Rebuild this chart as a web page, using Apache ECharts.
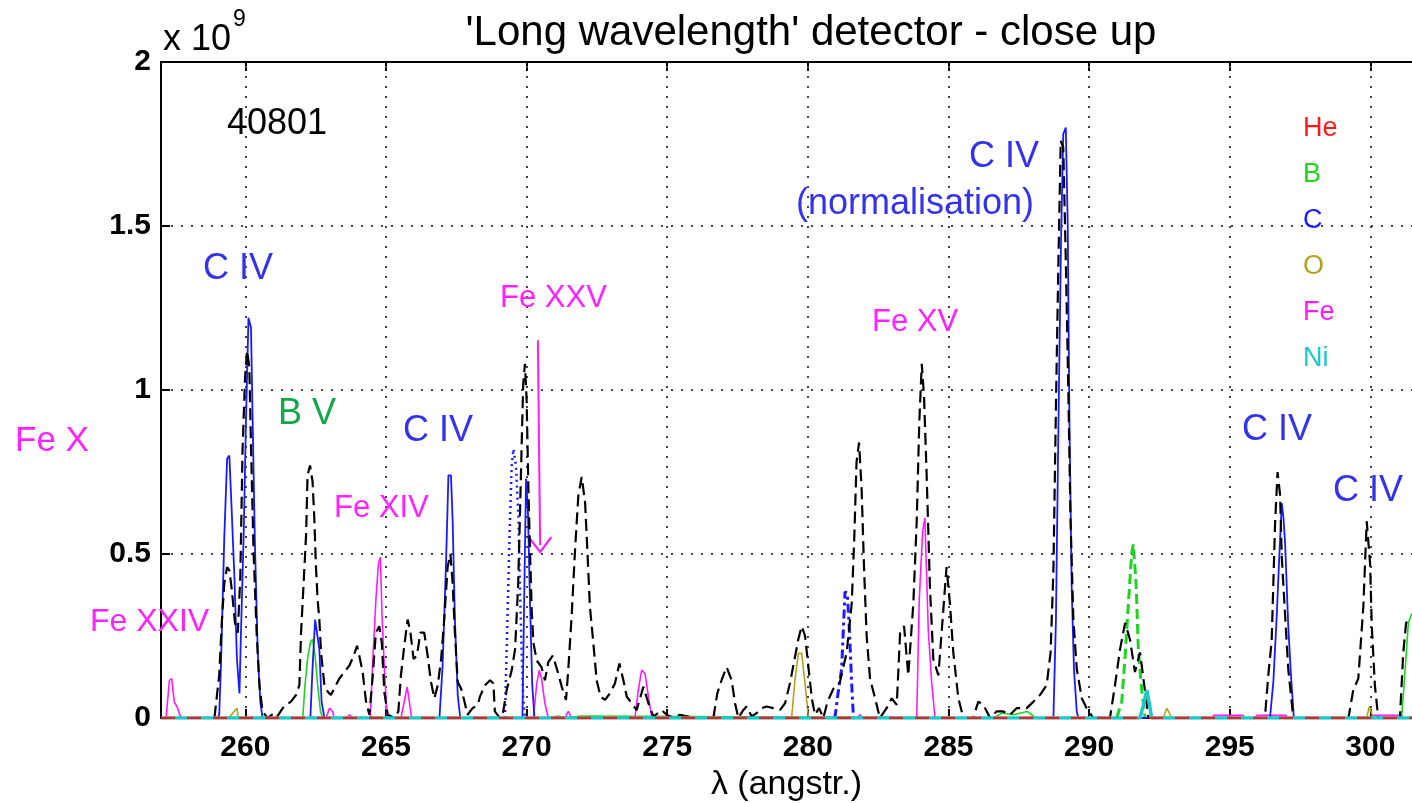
<!DOCTYPE html>
<html>
<head>
<meta charset="utf-8">
<script src="https://cdn.jsdelivr.net/npm/echarts@6/dist/echarts.min.js"></script>
<style>
html,body{margin:0;padding:0;background:#fff;}
#chart{width:1412px;height:803px;}
</style>
</head>
<body>
<div id="chart"></div>
<script>
// wavelength ticks (angstrom)
const xTicks = [260, 265, 270, 275, 280, 285, 290, 295, 300];
// values in units of 1e9
const totalSpectrum = [[257.0,0],[258.0,0],[258.9,0],[258.99,0.07],[259.07,0.13],[259.16,0.29],[259.25,0.41],[259.35,0.46],[259.43,0.45],[259.52,0.39],[259.63,0.29],[259.73,0.26],[259.82,0.43],[259.90,0.82],[259.99,1.04],[260.06,1.12],[260.14,1.07],[260.20,0.83],[260.29,0.51],[260.40,0.26],[260.50,0.10],[260.61,0.02],[260.79,0],[260.95,0.01],[261.1,0],[261.33,0.03],[261.45,0.04],[261.62,0.05],[261.8,0.07],[261.92,0.10],[261.98,0.26],[262.07,0.41],[262.16,0.56],[262.21,0.74],[262.30,0.77],[262.39,0.72],[262.45,0.61],[262.51,0.46],[262.57,0.36],[262.63,0.30],[262.69,0.20],[262.81,0.10],[262.93,0.08],[263.04,0.07],[263.16,0.09],[263.34,0.12],[263.52,0.14],[263.70,0.16],[263.85,0.19],[263.97,0.22],[264.05,0.19],[264.17,0.14],[264.29,0.05],[264.41,0.01],[264.53,0.13],[264.64,0.26],[264.76,0.28],[264.85,0.23],[264.94,0.08],[265.06,0.01],[265.30,0],[265.44,0.02],[265.53,0.13],[265.65,0.22],[265.77,0.30],[265.87,0.26],[265.98,0.18],[266.10,0.19],[266.22,0.26],[266.36,0.26],[266.48,0.19],[266.60,0.11],[266.72,0.06],[266.84,0.10],[266.96,0.18],[267.07,0.30],[267.19,0.46],[267.29,0.50],[267.37,0.41],[267.45,0.26],[267.55,0.11],[267.67,0.09],[267.79,0.05],[267.90,0.01],[268.08,0.03],[268.26,0.04],[268.34,0.065],[268.52,0.10],[268.70,0.115],[268.82,0.105],[268.87,0.02],[269.05,0],[269.17,0.02],[269.29,0.085],[269.47,0.146],[269.59,0.21],[269.70,0.41],[269.76,0.61],[269.82,0.82],[269.88,1.02],[269.94,1.08],[270.00,0.97],[270.06,0.71],[270.12,0.51],[270.18,0.33],[270.24,0.23],[270.36,0.175],[270.53,0.155],[270.65,0.115],[270.77,0.17],[270.93,0.19],[271.09,0.146],[271.25,0.095],[271.40,0.055],[271.48,0.146],[271.60,0.31],[271.72,0.51],[271.84,0.68],[271.96,0.735],[272.08,0.655],[272.16,0.51],[272.25,0.34],[272.37,0.23],[272.49,0.115],[272.63,0.065],[272.79,0.055],[272.96,0.075],[273.14,0.105],[273.30,0.166],[273.44,0.115],[273.56,0.065],[273.73,0.045],[273.91,0.024],[274.15,0.095],[274.33,0.045],[274.51,0.004],[274.80,0.024],[274.98,0.01],[275.22,0],[275.45,0.01],[275.99,0],[276.64,0],[276.78,0.075],[276.93,0.115],[277.11,0.155],[277.29,0.115],[277.41,0.045],[277.53,0],[277.70,0.024],[277.82,0.035],[278.00,0.005],[278.18,0.015],[278.36,0.03],[278.53,0.035],[278.77,0.03],[279.01,0.025],[279.19,0.045],[279.36,0.105],[279.54,0.185],[279.66,0.24],[279.78,0.28],[279.90,0.25],[280.02,0.155],[280.14,0.06],[280.25,0.01],[280.4,0.03],[280.55,0],[280.7,0.05],[280.91,0.09],[281.14,0.11],[281.38,0.20],[281.56,0.35],[281.65,0.55],[281.73,0.78],[281.82,0.84],[281.91,0.70],[282.00,0.45],[282.09,0.25],[282.21,0.12],[282.39,0.06],[282.56,0],[282.80,0.03],[282.98,0.06],[283.16,0.04],[283.28,0.26],[283.42,0.28],[283.57,0.13],[283.75,0.35],[283.87,0.60],[283.96,0.90],[284.05,1.08],[284.13,0.98],[284.22,0.75],[284.34,0.40],[284.46,0.18],[284.64,0.13],[284.79,0.30],[284.93,0.46],[285.05,0.35],[285.17,0.20],[285.35,0.06],[285.53,0],[285.88,0],[286.06,0.05],[286.24,0.04],[286.48,0],[286.71,0.02],[286.95,0.02],[287.19,0.01],[287.42,0.03],[287.78,0.03],[288.02,0.05],[288.25,0.07],[288.49,0.10],[288.63,0.20],[288.73,0.45],[288.82,0.95],[288.91,1.40],[288.99,1.76],[289.08,1.74],[289.17,1.40],[289.26,1.00],[289.34,0.60],[289.44,0.30],[289.56,0.15],[289.74,0.06],[289.91,0.03],[290.15,0],[290.74,0],[290.92,0.10],[291.10,0.21],[291.28,0.29],[291.45,0.24],[291.63,0.14],[291.81,0.20],[291.93,0.12],[292.11,0],[296.25,0],[296.37,0.13],[296.49,0.235],[296.55,0.41],[296.61,0.59],[296.70,0.75],[296.79,0.68],[296.85,0.49],[296.97,0.31],[297.08,0.15],[297.20,0.05],[297.26,0],[299.22,0],[299.39,0.085],[299.57,0.12],[299.75,0.34],[299.87,0.60],[299.99,0.47],[300.05,0.28],[300.16,0.10],[300.28,0],[301.05,0],[301.17,0.20],[301.27,0.29],[301.41,0.30],[301.5,0.30]];
const heLine = [[257,0],[301.5,0]];
const bLine = [[257,0],[262.04,0],[262.12,0.10],[262.21,0.18],[262.31,0.23],[262.39,0.24],[262.48,0.19],[262.57,0.10],[262.67,0.02],[262.75,0],[270.8,0],[270.82,0.006],[271.1,0.006],[271.12,0],[271.45,0],[271.47,0.006],[271.9,0.006],[271.92,0],[286.6,0],[286.9,0.015],[287.3,0.01],[287.8,0.02],[288.1,0],[301.11,0],[301.23,0.14],[301.35,0.29],[301.48,0.32]];
const bDashed = [[290.98,0],[291.16,0.05],[291.28,0.19],[291.39,0.34],[291.51,0.50],[291.57,0.53],[291.67,0.41],[291.75,0.21],[291.87,0.085],[291.99,0]];
const cLine = [[257,0],[259.0,0],[259.07,0.01],[259.13,0.155],[259.25,0.55],[259.35,0.79],[259.43,0.80],[259.51,0.64],[259.61,0.43],[259.70,0.18],[259.79,0.075],[259.84,0.25],[259.94,0.56],[260.02,0.90],[260.11,1.22],[260.20,1.19],[260.26,0.90],[260.34,0.53],[260.44,0.20],[260.53,0.05],[260.61,0],[262.31,0],[262.39,0.155],[262.48,0.30],[262.55,0.30],[262.63,0.21],[262.71,0.05],[262.81,0],[266.90,0],[267.01,0.155],[267.13,0.46],[267.22,0.74],[267.31,0.74],[267.37,0.60],[267.45,0.30],[267.55,0.07],[267.64,0],[269.85,0],[269.92,0.40],[269.98,0.73],[270.05,0.62],[270.12,0.35],[270.20,0.10],[270.28,0],[288.73,0],[288.82,0.30],[288.91,0.90],[289.00,1.45],[289.08,1.78],[289.17,1.80],[289.24,1.50],[289.30,0.90],[289.38,0.40],[289.46,0.15],[289.56,0.02],[289.62,0],[296.43,0],[296.55,0.11],[296.67,0.31],[296.76,0.49],[296.85,0.655],[296.91,0.61],[296.97,0.53],[297.08,0.28],[297.17,0.14],[297.28,0],[301.5,0]];
const cDotted = [[269.23,0],[269.29,0.21],[269.35,0.41],[269.41,0.61],[269.47,0.77],[269.53,0.82],[269.62,0.77],[269.71,0.61],[269.76,0.41],[269.82,0.21],[269.88,0.06],[269.94,0]];
const cDashDot = [[280.96,0],[281.08,0.08],[281.20,0.15],[281.32,0.385],[281.40,0.38],[281.47,0.28],[281.56,0.10],[281.62,0]];
const oLine = [[257,0],[259.4,0],[259.7,0.03],[259.75,0],[279.42,0],[279.54,0.115],[279.66,0.197],[279.78,0.197],[279.90,0.105],[280.02,0],[292.64,0],[292.76,0.03],[292.94,0],[299.87,0],[299.96,0.035],[300.11,0],[301.5,0]];
const feLine = [[257,0],[257.18,0],[257.30,0.115],[257.38,0.12],[257.47,0.05],[257.59,0.03],[257.71,0],[262.87,0],[262.99,0.03],[263.10,0.02],[263.16,0],[263.6,0],[263.7,0.01],[263.8,0],[264.44,0],[264.53,0.175],[264.64,0.36],[264.73,0.47],[264.80,0.49],[264.86,0.31],[264.94,0.155],[265.04,0],[265.53,0],[265.65,0.05],[265.75,0.095],[265.83,0.05],[265.91,0],[270.24,0],[270.36,0.105],[270.45,0.146],[270.53,0.12],[270.65,0.045],[270.77,0],[271.36,0],[271.48,0.02],[271.60,0],[273.85,0],[273.97,0.085],[274.09,0.146],[274.21,0.135],[274.33,0.065],[274.45,0],[281.75,0],[281.85,0.01],[281.95,0],[283.87,0],[283.96,0.36],[284.08,0.57],[284.16,0.61],[284.28,0.27],[284.40,0.11],[284.52,0],[294.40,0],[294.42,0.008],[295.48,0.008],[295.50,0],[295.94,0],[295.96,0.008],[297.00,0.008],[297.02,0],[300.10,0],[300.12,0.008],[301.10,0.008],[301.12,0],[301.5,0]];
const niLine = [[257,0],[291.81,0],[291.93,0.04],[292.05,0.085],[292.16,0.035],[292.22,0],[301.5,0]];
// Fe XXV arrow (data coordinates)
const arrowLine = [[270.40,1.152],[270.48,0.527]];

const FONT = 'Liberation Sans, Arial, Helvetica, sans-serif';
const COL = {He:'#ff1a1a', B:'#1ed41e', C:'#1a1aff', O:'#b0a320', Fe:'#ff1aff', Ni:'#1ec8c8'};
const LBL_BLUE = '#3333ee', LBL_GREEN = '#10a848', LBL_MAG = '#ff22ff';

const chart = echarts.init(document.getElementById('chart'), null, {renderer:'canvas'});

function ln(name, data, color, width, type, z){
  return {name, type:'line', data, showSymbol:false, symbol:'none', animation:false,
    lineStyle:{color, width, type}, itemStyle:{color}, z: z||2, silent:true};
}

const chevron = 'path://M50,0 L100,62 L93,68 L50,14 L7,68 L0,62 Z';

const series = [
  Object.assign(ln('O', oLine, COL.O, 1.6, 'solid', 4), {
    markLine:{silent:true, symbol:['none','none'], animation:false, label:{show:false},
      lineStyle:{color:'#444', width:2, type:[2,8]},
      data: xTicks.map(v => ({xAxis:v}))}
  }),
  ln('B', bLine, COL.B, 1.6, 'solid', 4),
  ln('B', bDashed, COL.B, 3, [10,5], 4),
  Object.assign(ln('Fe', feLine, COL.Fe, 1.6, 'solid', 5), {
    markLine:{silent:true, animation:false, label:{show:false},
      symbol:['none', chevron], symbolSize:[24,17],
      lineStyle:{color:COL.Fe, width:2, type:'solid'},
      data:[[{coord:arrowLine[0]},{coord:arrowLine[1]}]]}
  }),
  ln('C', cLine, COL.C, 1.8, 'solid', 5),
  ln('C', cDotted, COL.C, 2.5, [2,4], 5),
  ln('C', cDashDot, COL.C, 3, [9,4,3,4], 5),
  ln('total', totalSpectrum, '#000', 2.2, [12,6], 6),
  ln('Ni', niLine, COL.Ni, 3.5, 'solid', 7),
  ln('He', heLine, COL.He, 2.6, [14,12], 8)
];

function txt(text, x, y, size, color, align){
  return {type:'text', left:x, top:y - size*0.6, z:50, silent:true,
    style:{text, fill:color, font: size + 'px ' + FONT, textAlign: align||'left'}};
}

const option = {
  backgroundColor:'#fff',
  animation:false,
  title:{text:"'Long wavelength' detector - close up", left:806, top:7, textAlign:'center',
    textStyle:{fontFamily:FONT, fontSize:42, fontWeight:'normal', color:'#000'}},
  legend:{orient:'vertical', left:1293, top:110, icon:'none', itemWidth:0, itemHeight:0, itemGap:19,
    selectedMode:false,
    textStyle:{fontFamily:FONT, fontSize:27},
    data:[
      {name:'He', textStyle:{color:COL.He}},
      {name:'B', textStyle:{color:COL.B}},
      {name:'C', textStyle:{color:COL.C}},
      {name:'O', textStyle:{color:COL.O}},
      {name:'Fe', textStyle:{color:COL.Fe}},
      {name:'Ni', textStyle:{color:COL.Ni}}
    ]},
  grid:{left:161, top:62, right:0, bottom:85, containLabel:false, outerBoundsMode:'none'},
  xAxis:[{
    type:'value', min:257, max:301.48, position:'bottom',
    name:'λ (angstr.)', nameLocation:'middle', nameGap:50,
    nameTextStyle:{fontFamily:FONT, fontSize:34, color:'#000'},
    axisLine:{show:true, onZero:false, lineStyle:{color:'#000', width:2}},
    axisTick:{show:true, inside:true, length:9, lineStyle:{color:'#000', width:2}, customValues:xTicks},
    axisLabel:{show:true, customValues:xTicks, margin:15, fontFamily:FONT, fontSize:30, fontWeight:'bold', color:'#000'},
    splitLine:{show:false}
  },{
    type:'value', min:257, max:301.48, position:'top',
    axisLine:{show:true, onZero:false, lineStyle:{color:'#000', width:2}},
    axisTick:{show:true, inside:true, length:9, lineStyle:{color:'#000', width:2}, customValues:xTicks},
    axisLabel:{show:false}, splitLine:{show:false}
  }],
  yAxis:{
    type:'value', min:0, max:2, interval:0.5,
    axisLine:{show:true, lineStyle:{color:'#000', width:2}},
    axisTick:{show:true, inside:true, length:9, lineStyle:{color:'#000', width:2}},
    axisLabel:{margin:10, fontFamily:FONT, fontSize:30, fontWeight:'bold', color:'#000'},
    splitLine:{show:true, lineStyle:{color:'#444', width:2, type:[2,8]}}
  },
  graphic:[
    txt('x 10', 163, 44, 36, '#000'),
    txt('9', 233, 22, 23, '#000'),
    txt('40801', 227, 128, 36, '#000'),
    txt('Fe X', 15, 445, 35, LBL_MAG),
    txt('C IV', 203, 273, 36, LBL_BLUE),
    txt('B V', 278, 418, 36, LBL_GREEN),
    txt('C IV', 403, 435, 36, LBL_BLUE),
    txt('Fe XIV', 334, 512, 31, LBL_MAG),
    txt('Fe XXIV', 90, 625, 32, LBL_MAG),
    txt('Fe XXV', 500, 302, 31, LBL_MAG),
    txt('Fe XV', 872, 326, 31, LBL_MAG),
    txt('C IV', 969, 161, 36, LBL_BLUE),
    txt('(normalisation)', 796, 208, 36, LBL_BLUE),
    txt('C IV', 1242, 434, 36, LBL_BLUE),
    txt('C IV', 1333, 495, 36, LBL_BLUE)
  ],
  series
};
chart.setOption(option);
</script>
</body>
</html>
